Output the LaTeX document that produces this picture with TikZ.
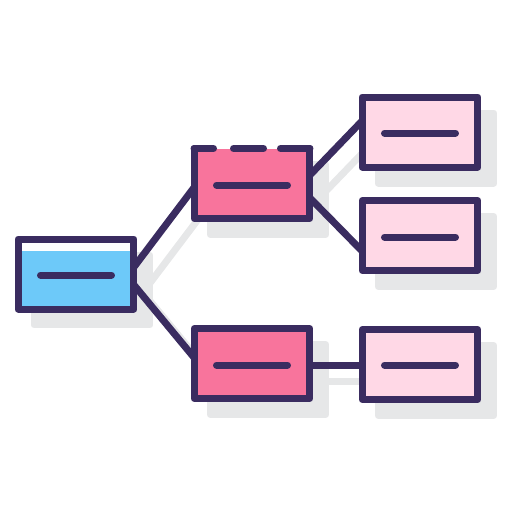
\documentclass[tikz,border=0pt]{standalone}
\usetikzlibrary{calc}
\definecolor{ink}{HTML}{3A2C60}
\definecolor{sky}{HTML}{6DC9F9}
\definecolor{rose}{HTML}{F8749C}
\definecolor{blush}{HTML}{FFD8E6}
\definecolor{shadowgray}{HTML}{E6E7E8}
\begin{document}
\begin{tikzpicture}[x=0.02cm, y=-0.02cm, line width=0.14cm, line join=round, line cap=round,
    box/.style={inner sep=0pt, outer sep=0pt, minimum width=2.32cm, minimum height=1.4cm},
    shadowbox/.style={box, draw=shadowgray, fill=shadowgray},
    link/.style={draw=ink},
    shadowlink/.style={draw=shadowgray}]
			\useasboundingbox (0,0) rectangle (512,512);
			% shadows
			\node[shadowbox] (rootS) at (92,290) {};
			\node[shadowbox] (topS) at (268,199.5) {};
			\node[shadowbox] (botS) at (268,379.5) {};
			\node[shadowbox] (rAS) at (436,148) {};
			\node[shadowbox] (rBS) at (436,251.5) {};
			\node[shadowbox] (rCS) at (436,380.5) {};
			\draw[shadowlink] ($(rootS.east)+(0,-7)$) -- ($(topS.west)+(0,4)$);
			\draw[shadowlink] ($(rootS.east)+(0,11)$) -- ($(botS.west)+(0,-6)$);
			\draw[shadowlink] ($(topS.east)+(0,-8.5)$) -- ($(rAS.west)+(0,-11)$);
			\draw[shadowlink] ($(topS.east)+(0,14.5)$) -- ($(rBS.west)+(0,15.5)$);
			\draw[shadowlink] ($(botS.east)+(0,1.5)$) -- ($(rCS.west)+(0,0.5)$);
			% boxes
			\node[box] (root) at (76,274) {};
			\node[box] (top) at (252,183.5) {};
			\node[box] (bot) at (252,363.5) {};
			\node[box] (rA) at (420,132) {};
			\node[box] (rB) at (420,235.5) {};
			\node[box] (rC) at (420,364.5) {};
			% connectors
			\draw[link] ($(root.east)+(0,-7)$) -- ($(top.west)+(0,4)$);
			\draw[link] ($(root.east)+(0,11)$) -- ($(bot.west)+(0,-6)$);
			\draw[link] ($(top.east)+(0,-8.5)$) -- ($(rA.west)+(0,-11)$);
			\draw[link] ($(top.east)+(0,14.5)$) -- ($(rB.west)+(0,15.5)$);
			\draw[link] ($(bot.east)+(0,1.5)$) -- ($(rC.west)+(0,0.5)$);
			% root box, white band on top
			\fill[white] (root.north west) rectangle (root.south east);
			\fill[sky] ($(root.south west)+(3.5,-3.5)$) rectangle ($(root.north east)+(-3.5,12)$);
			\draw[ink] (root.north west) rectangle (root.south east);
			% top box, broken upper edge
			\fill[rose] (top.north west) rectangle (top.south east);
			\draw[ink] (top.north west) -- (top.south west) -- (top.south east) -- (top.north east);
			\draw[ink] (top.north west) -- ($(top.north west)+(19.5,0)$);
			\draw[ink] ($(top.north west)+(39.5,0)$) -- ($(top.north west)+(69.5,0)$);
			\draw[ink] ($(top.north west)+(86.5,0)$) -- (top.north east);
			% other boxes
			\draw[ink, fill=rose] (bot.north west) rectangle (bot.south east);
			\draw[ink, fill=blush] (rA.north west) rectangle (rA.south east);
			\draw[ink, fill=blush] (rB.north west) rectangle (rB.south east);
			\draw[ink, fill=blush] (rC.north west) rectangle (rC.south east);
			% bars
			\draw[ink] ($(root.center)+(-35.5,1)$) -- ($(root.center)+(35.5,1)$);
			\draw[ink] ($(top.center)+(-35.5,1.5)$) -- ($(top.center)+(35.5,1.5)$);
			\draw[ink] ($(bot.center)+(-35.5,1.5)$) -- ($(bot.center)+(35.5,1.5)$);
			\draw[ink] ($(rA.center)+(-35.5,1)$) -- ($(rA.center)+(35.5,1)$);
			\draw[ink] ($(rB.center)+(-35.5,1.5)$) -- ($(rB.center)+(35.5,1.5)$);
			\draw[ink] ($(rC.center)+(-35.5,0.5)$) -- ($(rC.center)+(35.5,0.5)$);
		\end{tikzpicture}
\end{document}
